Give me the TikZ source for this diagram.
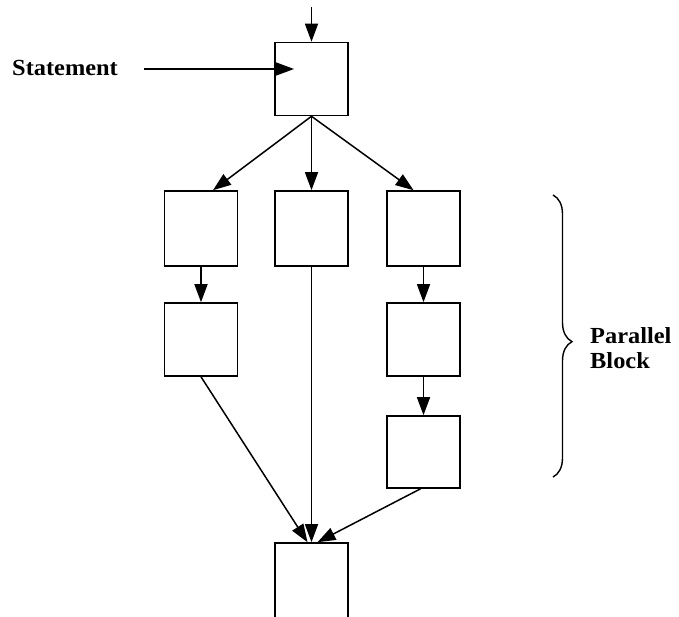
\documentclass[tikz,border=0pt]{standalone}
\usepackage{fontspec}
\setmainfont{Liberation Serif}
\usetikzlibrary{arrows.meta,calc,decorations.pathreplacing}

\tikzset{
  blk/.style={draw, line width=1.6pt, minimum width=73pt, minimum height=73pt, inner sep=0pt},
  flow/.style={line width=1.5pt, -{Triangle[length=18pt,width=13pt]}},
  lbl/.style={font=\fontsize{23}{25}\selectfont\bfseries, inner sep=0pt},
}

\begin{document}
\begin{tikzpicture}[x=1pt, y=-1pt]
  \path[use as bounding box, clip] (0,0) rectangle (679,616);
  \fill[white] (0,0) rectangle (679,616);

  % blocks
  \node[blk] (top) at (311.5,79) {};
  \node[blk, minimum height=75pt] (l1) at (201,228.5) {};
  \node[blk, minimum height=75pt] (m1) at (311.5,228.5) {};
  \node[blk, minimum height=75pt] (r1) at (423.5,228.5) {};
  \node[blk] (l2) at (201,339.5) {};
  \node[blk] (r2) at (423.5,339.5) {};
  \node[blk, minimum height=72pt] (r3) at (423.5,452) {};
  \node[blk, minimum height=90pt] (bot) at (311.5,588) {};

  % labels
  \node[lbl, anchor=base west] (stmt) at (12,75) {\scalebox{1.06}[1]{Statement}};
  \node[lbl, anchor=base west] (par) at (590,343) {\scalebox{1.06}[1]{Parallel}};
  \node[lbl, anchor=base west] (blkl) at (590,368) {\scalebox{1.06}[1]{Block}};

  % free ends
  \coordinate (in) at (311.5,7);
  \coordinate (sfrom) at (144,69);
  \coordinate (sto) at (294,69);

  % connectors
  \draw[flow] (in) -- (top.north);
  \draw[flow] (sfrom) -- (sto);
  \draw[flow] (top.south) -- ($(l1.north)+(12,0)$);
  \draw[flow] (top.south) -- (m1.north);
  \draw[flow] (top.south) -- ($(r1.north)+(-10,0)$);
  \draw[flow] (l1.south) -- (l2.north);
  \draw[flow] (r1.south) -- (r2.north);
  \draw[flow] (r2.south) -- (r3.north);
  \draw[flow] (l2.south) -- ($(bot.north)+(-4,0)$);
  \draw[flow] (m1.south) -- (bot.north);
  \draw[flow] ($(r3.south)+(-3,0)$) -- ($(bot.north)+(6,0)$);

  % brace over the parallel section
  \draw[line width=1.4pt, decorate, decoration={brace, amplitude=19pt, aspect=0.52}]
    (553,195) -- (553,477);
\end{tikzpicture}
\end{document}
